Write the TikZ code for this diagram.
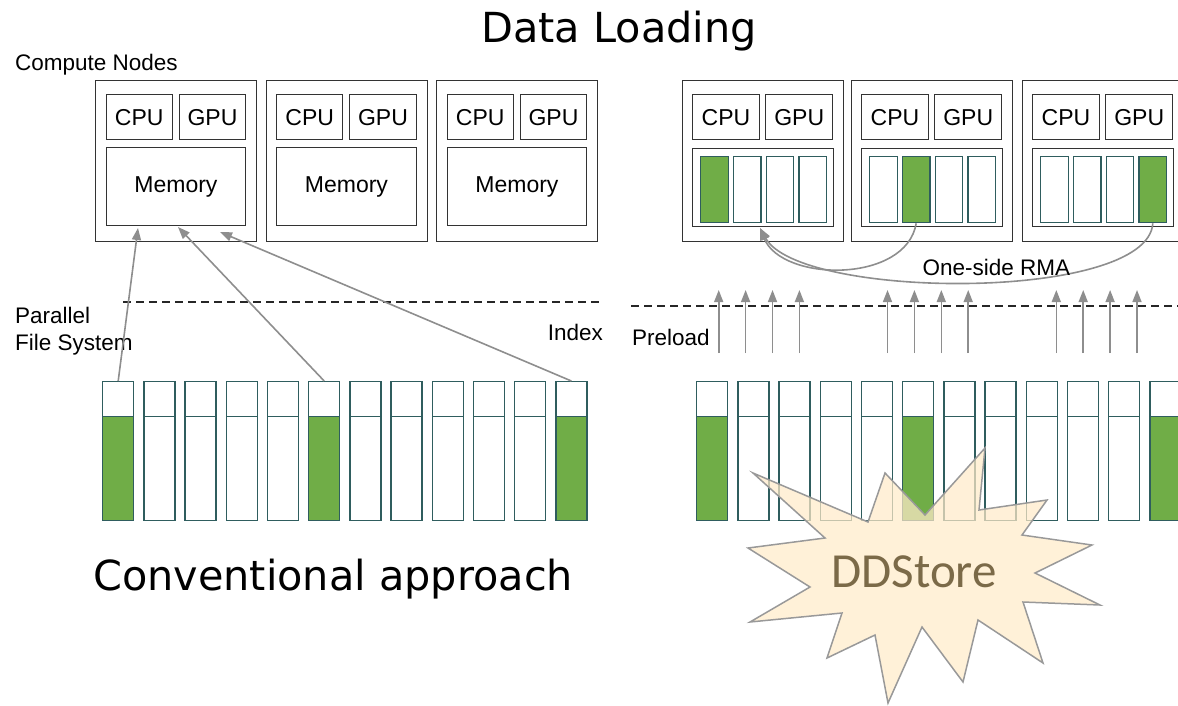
\documentclass[tikz,border=0pt]{standalone}
\usepackage{fontspec}
\setmainfont{Liberation Sans}
\newfontfamily\titlefont{DejaVu Sans}
\newfontfamily\burstfont{Carlito}
\usetikzlibrary{arrows.meta}

\definecolor{boxline}{HTML}{333333}
\definecolor{teal}{HTML}{2F5D5E}
\definecolor{slotgreen}{HTML}{70AD47}
\definecolor{arrowgray}{HTML}{8E8E8E}
\definecolor{burstfill}{HTML}{FFEBC9}
\definecolor{burstline}{HTML}{999999}
\definecolor{bursttext}{HTML}{7B6A48}

\begin{document}
\begin{tikzpicture}[x=1pt,y=-1pt,
  lbl/.style={font=\fontsize{22.5}{27}\selectfont, inner sep=0pt},
  heading/.style={font=\titlefont\fontsize{41.4}{48}\selectfont, inner sep=0pt},
  hostbox/.style={draw=boxline, line width=1.4pt, inner sep=0pt, anchor=north west,
    minimum width=161pt, minimum height=161pt},
  chipbox/.style={draw=boxline, line width=1.4pt, inner sep=0pt, anchor=north west,
    minimum height=45pt, font=\fontsize{23}{27}\selectfont},
  membox/.style={draw=boxline, line width=1.4pt, inner sep=0pt, anchor=north west,
    minimum width=139.5pt, minimum height=78pt, font=\fontsize{23}{27}\selectfont},
  slot/.style={draw=teal, line width=1.3pt, inner sep=0pt, anchor=north west,
    minimum width=27.5pt, minimum height=66pt},
  barcap/.style={draw=teal, line width=1.4pt, inner sep=0pt, anchor=north west,
    minimum width=31pt, minimum height=35pt, fill=white},
  barbody/.style={draw=teal, line width=1.4pt, inner sep=0pt, anchor=north west,
    minimum width=31pt, minimum height=104pt},
  fetch/.style={draw=arrowgray, line width=1.6pt, -{Triangle[length=12pt,width=9pt]}},
  rma/.style={draw=arrowgray, line width=1.6pt, -{Triangle[length=12pt,width=9pt]}},
  idxline/.style={draw=black!85, line width=1.3pt, dash pattern=on 8pt off 5pt},
]
\useasboundingbox (0,0) rectangle (1178,705);

% ---------- headings ----------
\node[heading, anchor=base] (title) at (619,42) {Data Loading};
\node[lbl, anchor=base west] (cnodes) at (15,70) {Compute Nodes};

% ---------- conventional: compute nodes ----------
\foreach \i/\x in {1/95,2/265.5,3/436} {
  \node[hostbox] (L\i) at (\x,80) {};
  \node[chipbox, minimum width=66pt] (L\i cpu) at (\x+10.5,94) {CPU};
  \node[chipbox, minimum width=66.5pt] (L\i gpu) at (\x+83.5,94) {GPU};
  \node[membox] (L\i mem) at (\x+10.5,147) {Memory};
}

% ---------- DDStore: compute nodes with memory slots ----------
\foreach \i/\x/\g in {1/682/1,2/851/2,3/1022/4} {
  \node[hostbox] (R\i) at (\x,80) {};
  \node[chipbox, minimum width=66.5pt] (R\i cpu) at (\x+10,94) {CPU};
  \node[chipbox, minimum width=67pt] (R\i gpu) at (\x+83,94) {GPU};
  \node[membox, minimum width=141pt] (R\i mem) at (\x+10,147.5) {};
  \foreach \s in {1,...,4} {
    \ifnum\s=\g\def\fc{slotgreen}\else\def\fc{white}\fi
    \node[slot, fill=\fc] (R\i s\s) at (\x+18+\s*32.8-32.8,156) {};
  }
}

% ---------- file system bars ----------
\foreach \k in {1,...,12} {
  \ifnum\k=1\def\fc{slotgreen}\else\ifnum\k=6\def\fc{slotgreen}\else
    \ifnum\k=12\def\fc{slotgreen}\else\def\fc{white}\fi\fi\fi
  \node[barbody, fill=\fc] (Lb\k) at (102+\k*41.2-41.2,416) {};
  \node[barcap] (Lb\k t) at (102+\k*41.2-41.2,381) {};
  \node[barbody, fill=\fc] (Rb\k) at (696+\k*41.2-41.2,416) {};
  \node[barcap] (Rb\k t) at (696+\k*41.2-41.2,381) {};
}

% ---------- index lines and labels ----------
\coordinate (ixA) at (123,302);
\coordinate (ixB) at (603,302);
\coordinate (ixC) at (631,306);
\coordinate (ixD) at (1178,306);
\draw[idxline] (ixA) -- (ixB);
\draw[idxline] (ixC) -- (ixD);
\node[lbl, anchor=base west] (pfs1) at (15,323) {Parallel};
\node[lbl, anchor=base west] (pfs2) at (15,350) {File System};
\node[lbl, anchor=base east] (index) at (603,340) {Index};
\node[lbl, anchor=base west] (preload) at (632,345) {Preload};

% ---------- conventional reads into memory ----------
\coordinate (m1) at (138,228);
\coordinate (m2) at (178,227);
\coordinate (m3) at (220,232);
\draw[fetch] (Lb1t.north) -- (m1);
\draw[fetch] (Lb6t.north) -- (m2);
\draw[fetch] (Lb12t.north) -- (m3);

% ---------- preload arrows ----------
\foreach \x in {718.7,745.6,772.5,799.4,887.5,914.4,941.3,968.2,1056.3,1083.2,1110.1,1137} {
  \draw[fetch] (\x,353) -- (\x,290);
}

% ---------- one-sided RMA ----------
\coordinate (rmaT) at (760,228);
\draw[rma] (R2s2.south) .. controls (906,284) and (782,282) .. (rmaT);
\draw[rma] (R3s4.south) .. controls (1148,302) and (800,300) .. (rmaT);
\node[lbl, anchor=base west] (rmalbl) at (922.5,275) {One-side RMA};

% ---------- captions ----------
\node[heading, anchor=base west] (conv) at (93,590) {Conventional approach};

% ---------- DDStore burst ----------
\path[fill=burstfill, fill opacity=0.72, draw=burstline, line width=1.5pt, line join=miter]
  (753,473) -- (868,522) -- (885,473) -- (925,515) -- (985,448) -- (979,510)
  -- (1047,500) -- (1022,535) -- (1092,545) -- (1035,573) -- (1100,605)
  -- (1023,602) -- (1043,663) -- (978,620) -- (963,682) -- (922,627)
  -- (888,703) -- (875,635) -- (827,658) -- (842,613) -- (750,622)
  -- (810,587) -- (748,548) -- (825,538) -- cycle;
\node[font=\burstfont\fontsize{49}{56}\selectfont, text=bursttext, inner sep=0pt, anchor=base]
  (ddstore) at (914,587) {DDStore};
\end{tikzpicture}
\end{document}
